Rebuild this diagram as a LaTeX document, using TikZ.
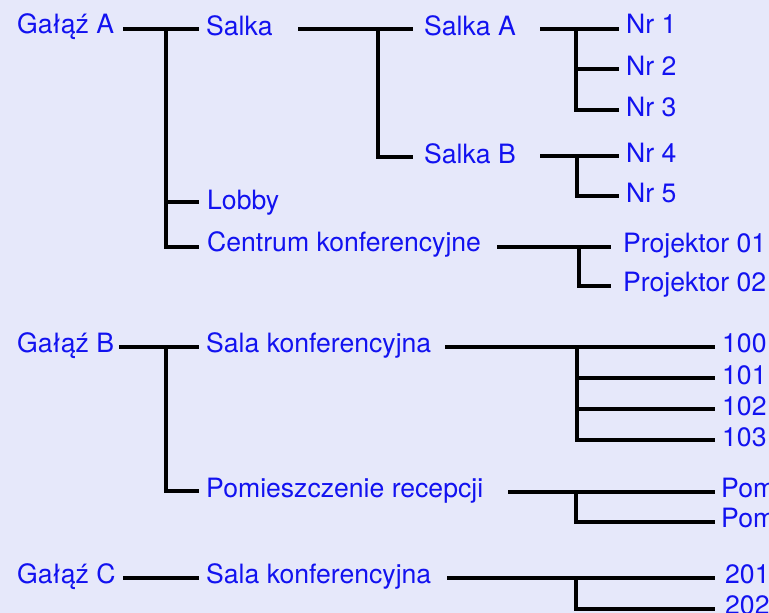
\documentclass[tikz,border=0pt]{standalone}
\usepackage{fontspec}
\setmainfont{TeX Gyre Heros}
\definecolor{bgcol}{RGB}{230,232,250}
\definecolor{txtcol}{RGB}{18,18,240}
\begin{document}
\begin{tikzpicture}[x=1pt,y=-1pt,
  lbl/.style={anchor=base west,inner sep=0pt,text=txtcol,font=\fontsize{26.6}{30}\selectfont},
  conn/.style={line width=3.2pt,black,line join=miter,line cap=butt}]
\useasboundingbox (0,0) rectangle (769,613);
\fill[bgcol] (0,0) rectangle (769,613);
\clip (0,0) rectangle (769,613);

% ---------- Gałąź A ----------
\node[lbl] (gA) at (17,34) {Gałąź A};
\node[lbl] (salka) at (206,35) {Salka};
\node[lbl] (salkaA) at (424,35) {Salka A};
\node[lbl] (salkaB) at (424,163) {Salka B};
\node[lbl] (nr1) at (626,34) {Nr 1};
\node[lbl] (nr2) at (626,75) {Nr 2};
\node[lbl] (nr3) at (626,116) {Nr 3};
\node[lbl] (nr4) at (626,162) {Nr 4};
\node[lbl] (nr5) at (626,202) {Nr 5};
\node[lbl] (lobby) at (207,209) {Lobby};
\node[lbl] (centrum) at (207,251) {Centrum konferencyjne};
\node[lbl] (proj1) at (623,252) {Projektor 01};
\node[lbl] (proj2) at (623,291) {Projektor 02};

\coordinate (gAo) at (123,29);
\coordinate (salkaI) at (199,29);
\coordinate (jA) at (166,29);
\coordinate (lobbyI) at (199,202);
\coordinate (centrumI) at (199,247);
\draw[conn] (gAo) -- (salkaI);
\draw[conn] (jA) |- (centrumI);
\draw[conn] (jA |- lobbyI) -- (lobbyI);

\coordinate (salkaO) at (298,29);
\coordinate (salkaAI) at (413,29);
\coordinate (jS) at (378,29);
\coordinate (salkaBI) at (413,157);
\draw[conn] (salkaO) -- (salkaAI);
\draw[conn] (jS) |- (salkaBI);

\coordinate (salkaAO) at (540,29);
\coordinate (nr1I) at (619,29);
\coordinate (jSA) at (576,29);
\coordinate (nr2I) at (619,69);
\coordinate (nr3I) at (619,110);
\draw[conn] (salkaAO) -- (nr1I);
\draw[conn] (jSA) |- (nr3I);
\draw[conn] (jSA |- nr2I) -- (nr2I);

\coordinate (salkaBO) at (540,156);
\coordinate (nr4I) at (619,156);
\coordinate (jSB) at (577,156);
\coordinate (nr5I) at (619,196);
\draw[conn] (salkaBO) -- (nr4I);
\draw[conn] (jSB) |- (nr5I);

\coordinate (centrumO) at (497,247);
\coordinate (proj1I) at (611,247);
\coordinate (jC) at (579,247);
\coordinate (proj2I) at (611,286);
\draw[conn] (centrumO) -- (proj1I);
\draw[conn] (jC) |- (proj2I);

% ---------- Gałąź B ----------
\node[lbl] (gB) at (17,352) {Gałąź B};
\node[lbl] (salaB) at (206,352) {Sala konferencyjna};
\node[lbl] (recep) at (206,497) {Pomieszczenie recepcji};
\node[lbl] (r100) at (722,352) {100};
\node[lbl] (r101) at (722,384) {101};
\node[lbl] (r102) at (722,415) {102};
\node[lbl] (r103) at (722,446) {103};
\node[lbl] (pom1) at (721,497) {Pom};
\node[lbl] (pom2) at (721,527) {Pom};

\coordinate (gBo) at (119,347);
\coordinate (salaBI) at (199,347);
\coordinate (jB) at (166,347);
\coordinate (recepI) at (199,491);
\draw[conn] (gBo) -- (salaBI);
\draw[conn] (jB) |- (recepI);

\coordinate (salaBO) at (445,347);
\coordinate (r100I) at (715,347);
\coordinate (jSB2) at (577,347);
\coordinate (r101I) at (715,378);
\coordinate (r102I) at (715,409);
\coordinate (r103I) at (715,440);
\draw[conn] (salaBO) -- (r100I);
\draw[conn] (jSB2) |- (r103I);
\draw[conn] (jSB2 |- r101I) -- (r101I);
\draw[conn] (jSB2 |- r102I) -- (r102I);

\coordinate (recepO) at (508,492);
\coordinate (pom1I) at (715,492);
\coordinate (jR) at (576,492);
\coordinate (pom2I) at (715,522);
\draw[conn] (recepO) -- (pom1I);
\draw[conn] (jR) |- (pom2I);

% ---------- Gałąź C ----------
\node[lbl] (gC) at (17,583) {Gałąź C};
\node[lbl] (salaC) at (206,583) {Sala konferencyjna};
\node[lbl] (r201) at (725,583) {201};
\node[lbl] (r202) at (725,614) {202};

\coordinate (gCo) at (123,578);
\coordinate (salaCI) at (199,578);
\draw[conn] (gCo) -- (salaCI);

\coordinate (salaCO) at (447,578);
\coordinate (r201I) at (715,578);
\coordinate (jSC) at (576,578);
\coordinate (r202I) at (715,609);
\draw[conn] (salaCO) -- (r201I);
\draw[conn] (jSC) |- (r202I);
\end{tikzpicture}
\end{document}
